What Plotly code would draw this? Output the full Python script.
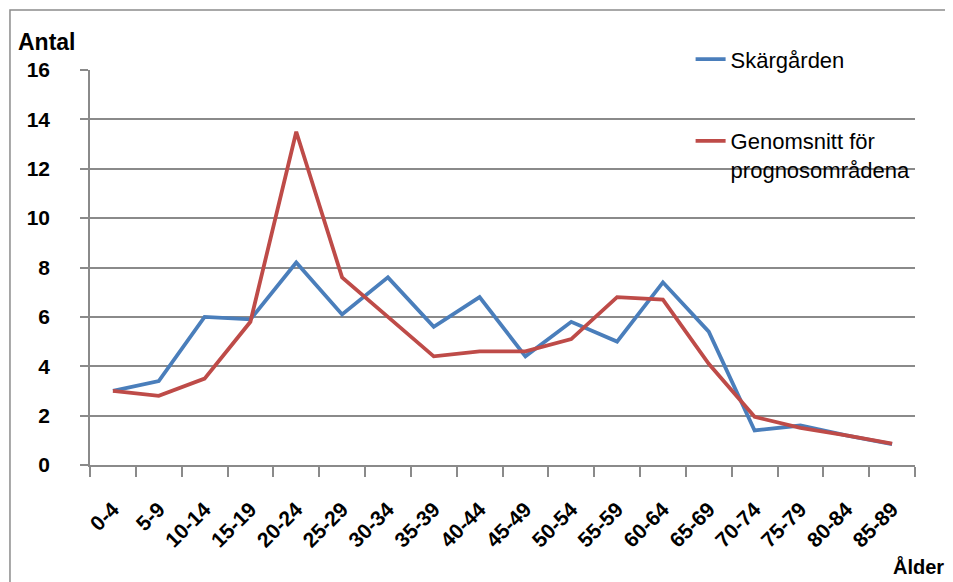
import plotly.graph_objects as go

age_groups = ["0-4", "5-9", "10-14", "15-19", "20-24", "25-29", "30-34", "35-39", "40-44",
              "45-49", "50-54", "55-59", "60-64", "65-69", "70-74", "75-79", "80-84", "85-89"]
skargarden = [3.0, 3.4, 6.0, 5.9, 8.2, 6.1, 7.6, 5.6, 6.8, 4.4, 5.8, 5.0, 7.4, 5.4, 1.4, 1.6, 1.2, 0.85]
genomsnitt = [3.0, 2.8, 3.5, 5.8, 13.5, 7.6, 6.0, 4.4, 4.6, 4.6, 5.1, 6.8, 6.7, 4.1, 1.95, 1.5, 1.2, 0.87]
series_names = ["Skärgården", "Genomsnitt för<br>prognosområdena"]

FONT = "Liberation Sans"
GRID = "#8a8a8a"

fig = go.Figure()
fig.add_trace(go.Scatter(x=age_groups, y=skargarden, mode="lines", name=series_names[0],
                         legendgroup="a", line=dict(color="#4A7EBB", width=3.8)))
fig.add_trace(go.Scatter(x=age_groups, y=genomsnitt, mode="lines", name=series_names[1],
                         legendgroup="b", line=dict(color="#BE4B48", width=3.8)))

fig.update_layout(
    width=945, height=574,
    margin=dict(l=82, r=38, t=62, b=117),
    paper_bgcolor="white", plot_bgcolor="white",
    font=dict(family=FONT, size=20, color="black"),
    showlegend=True,
    legend=dict(x=0.728, xanchor="left", y=1.08, yanchor="top",
                bgcolor="rgba(0,0,0,0)", tracegroupgap=50, valign="top",
                font=dict(family=FONT, size=22, color="black")),
    xaxis=dict(type="category", range=[-0.5, 17.5], tickson="boundaries",
               ticks="outside", ticklen=10, tickcolor=GRID, tickwidth=1.5,
               showline=True, linecolor=GRID, linewidth=1.5, showgrid=False,
               tickangle=-45, ticklabelstandoff=22,
               tickfont=dict(family=FONT, size=21, color="black", weight="bold"),
               fixedrange=True),
    yaxis=dict(range=[0, 16], dtick=2, ticks="outside", ticklen=8, tickcolor=GRID, tickwidth=1.5,
               showline=True, linecolor=GRID, linewidth=1.5,
               showgrid=True, gridcolor=GRID, gridwidth=1.5, zeroline=False,
               ticklabelstandoff=26,
               tickfont=dict(family=FONT, size=21, color="black", weight="bold"),
               fixedrange=True),
    annotations=[
        dict(text="<b>Antal</b>", xref="paper", yref="paper", x=-0.052, y=1.071,
             xanchor="center", yanchor="middle", showarrow=False,
             font=dict(family=FONT, size=23, color="black")),
        dict(text="<b>Ålder</b>", xref="paper", yref="paper", x=1.0, y=-0.258,
             xanchor="left", yanchor="middle", showarrow=False, xshift=-24,
             font=dict(family=FONT, size=20, color="black")),
    ],
    shapes=[
        dict(type="rect", xref="paper", yref="paper", x0=-0.097, x1=1.2, y0=-0.4, y1=1.152,
             line=dict(color="#8c8c8c", width=1.5), fillcolor="rgba(0,0,0,0)", layer="below"),
    ],
)

fig.write_html("out.html")
